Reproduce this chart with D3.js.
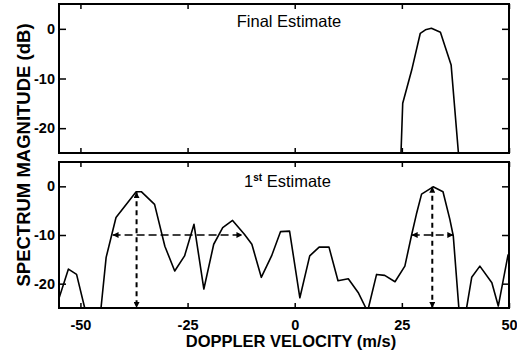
<!DOCTYPE html>
<html>
<head>
<meta charset="utf-8">
<script src="https://cdn.jsdelivr.net/npm/d3@7/dist/d3.min.js"></script>
<style>
  body { margin: 0; background: #fff; }
  .tick text { font-family: Arial, "Liberation Sans", sans-serif; font-weight: bold; font-size: 14.5px; fill: #000; }
  .tick line { stroke: #000; stroke-width: 1.5; }
</style>
</head>
<body>
<div class="chart"></div>
<script>

var velTicks = [-50, -25, 0, 25, 50];
var dbTicks = [0, -10, -20];

// Final estimate spectrum (top panel)
var finalVel = [24.8, 25.2, 27.3, 29.3, 30.5, 31.9, 34.0, 35.1, 36.5, 38.2];
var finalDb  = [-25, -15.0, -8.3, -0.9, -0.2, 0.1, -0.7, -3.6, -7.3, -25];

// 1st estimate spectrum (bottom panel)
var firstVel = [-55, -52.8, -50.9, -49.0, -45.2, -44.0, -41.7, -37.0, -35.8, -32.7,
                -30.3, -28.0, -25.7, -23.5, -21.2, -18.9, -16.8, -14.5, -11.7, -10.0,
                -7.8, -5.4, -3.3, -1.2, 1.2, 3.5, 5.7, 8.0, 10.1, 12.5,
                14.8, 16.6, 17.2, 19.1, 21.0, 23.4, 25.7, 27.3, 28.4, 29.6,
                32.3, 34.6, 36.2, 37.0, 38.3, 40.1, 41.3, 43.2, 46.0, 47.5, 49.8];
var firstDb  = [-23, -17.0, -18.1, -25, -25, -14.6, -6.4, -1.1, -1.1, -3.7,
                -12.3, -17.4, -14.3, -7.8, -21.1, -11.9, -8.5, -7.0, -9.9, -11.9,
                -18.7, -14.3, -9.3, -9.2, -22.9, -14.3, -12.5, -12.5, -19.4, -19.0,
                -21.8, -25, -25, -18.1, -18.3, -19.6, -16.4, -9.9, -5.7, -1.6,
                -0.1, -1.1, -6.8, -10.2, -25, -25, -18.7, -16.4, -19.8, -24.6, -14.0];

// peaks found in the 1st estimate and their -10 dB widths
var peakVel = [-36.9, 32.1];
var peakDb = [-1.2, -0.1];
var widthLeft = [-42.5, 27.3];
var widthRight = [-12.2, 37.0];
var widthLevel = -10;

var W = 517, H = 357;
var left = 59, right = 509;

var svg = d3.select(".chart")
  .append("svg")
    .attr("width", W)
    .attr("height", H)
    .style("font-family", "Arial, 'Liberation Sans', sans-serif");

svg.append("rect").attr("width", W).attr("height", H).attr("fill", "#fff");

var defs = svg.append("defs");
defs.append("marker")
    .attr("id", "arrow")
    .attr("viewBox", "0 0 6 6")
    .attr("refX", 6).attr("refY", 3)
    .attr("markerWidth", 6).attr("markerHeight", 6)
    .attr("markerUnits", "userSpaceOnUse")
    .attr("orient", "auto-start-reverse")
  .append("path")
    .attr("d", "M0,0L6,3L0,6z")
    .attr("fill", "#000");

var x = d3.scaleLinear().domain([-55, 50]).range([left, right]);

// plain hyphen instead of d3's unicode minus
function plain(d) { return String(d); }

function drawPanel(id, top, bottom, vel, db) {
  var y = d3.scaleLinear().domain([-25, 5]).range([bottom, top]);
  var g = svg.append("g").attr("class", "panel-" + id);

  defs.append("clipPath").attr("id", "clip-" + id)
    .append("rect")
      .attr("x", left).attr("y", top)
      .attr("width", right - left).attr("height", bottom - top);

  var line = d3.line()
      .x(function(d) { return x(d[0]); })
      .y(function(d) { return y(d[1]); });

  var pts = vel.map(function(v, i) { return [v, db[i]]; });

  g.append("path")
    .datum(pts)
    .attr("clip-path", "url(#clip-" + id + ")")
    .attr("d", line)
    .attr("fill", "none")
    .attr("stroke", "#000")
    .attr("stroke-width", 1.6)
    .attr("stroke-linejoin", "round");

  // axes, ticks pointing inward
  g.append("g").attr("transform", "translate(" + left + ",0)")
    .call(d3.axisLeft(y).tickValues(dbTicks).tickSize(-7).tickSizeOuter(0).tickPadding(4).tickFormat(plain))
    .call(function(a) { a.select(".domain").remove(); });
  g.append("g").attr("transform", "translate(" + right + ",0)")
    .call(d3.axisRight(y).tickValues(dbTicks).tickSize(-7).tickSizeOuter(0).tickFormat(""))
    .call(function(a) { a.select(".domain").remove(); });
  g.append("g").attr("transform", "translate(0," + top + ")")
    .call(d3.axisTop(x).tickValues(velTicks).tickSize(-5).tickSizeOuter(0).tickFormat(""))
    .call(function(a) { a.select(".domain").remove(); });
  var xb = d3.axisBottom(x).tickValues(velTicks).tickSize(-5).tickSizeOuter(0);
  if (id === "top") xb.tickFormat("");
  else xb.tickPadding(12).tickFormat(plain);
  g.append("g").attr("transform", "translate(0," + bottom + ")")
    .call(xb)
    .call(function(a) { a.select(".domain").remove(); });

  g.append("rect")
    .attr("x", left).attr("y", top)
    .attr("width", right - left).attr("height", bottom - top)
    .attr("fill", "none")
    .attr("stroke", "#000")
    .attr("stroke-width", 2);

  return { g: g, y: y };
}

var topPanel = drawPanel("top", 4, 153, finalVel, finalDb);
var botPanel = drawPanel("bot", 162, 308, firstVel, firstDb);

topPanel.g.append("text")
  .attr("x", 289).attr("y", 27)
  .attr("text-anchor", "middle")
  .style("font-size", "16.5px")
  .text("Final Estimate");

var est = botPanel.g.append("text")
  .attr("x", 244).attr("y", 187)
  .style("font-size", "16.5px");
est.append("tspan").text("1");
est.append("tspan").attr("dy", -6).style("font-size", "10px").style("font-weight", "bold").text("st");
est.append("tspan").attr("dy", 6).text(" Estimate");

// peak / width markers
var by = botPanel.y;
peakVel.forEach(function(v, i) {
  botPanel.g.append("line")
    .attr("x1", x(v)).attr("x2", x(v))
    .attr("y1", by(peakDb[i])).attr("y2", by(-25))
    .attr("stroke", "#000")
    .attr("stroke-width", 2)
    .attr("stroke-dasharray", "5,4")
    .attr("marker-start", "url(#arrow)")
    .attr("marker-end", "url(#arrow)");

  botPanel.g.append("line")
    .attr("x1", x(widthLeft[i])).attr("x2", x(widthRight[i]))
    .attr("y1", by(widthLevel)).attr("y2", by(widthLevel))
    .attr("stroke", "#000")
    .attr("stroke-width", 1.6)
    .attr("stroke-dasharray", "8,4")
    .attr("marker-start", "url(#arrow)")
    .attr("marker-end", "url(#arrow)");
});

svg.append("text")
  .attr("x", 291).attr("y", 347)
  .attr("text-anchor", "middle")
  .style("font-size", "16.5px")
  .style("font-weight", "bold")
  .text("DOPPLER VELOCITY (m/s)");

svg.append("text")
  .attr("transform", "translate(30,155) rotate(-90)")
  .attr("text-anchor", "middle")
  .style("font-size", "18.5px")
  .style("font-weight", "bold")
  .text("SPECTRUM MAGNITUDE (dB)");

</script>
</body>
</html>
